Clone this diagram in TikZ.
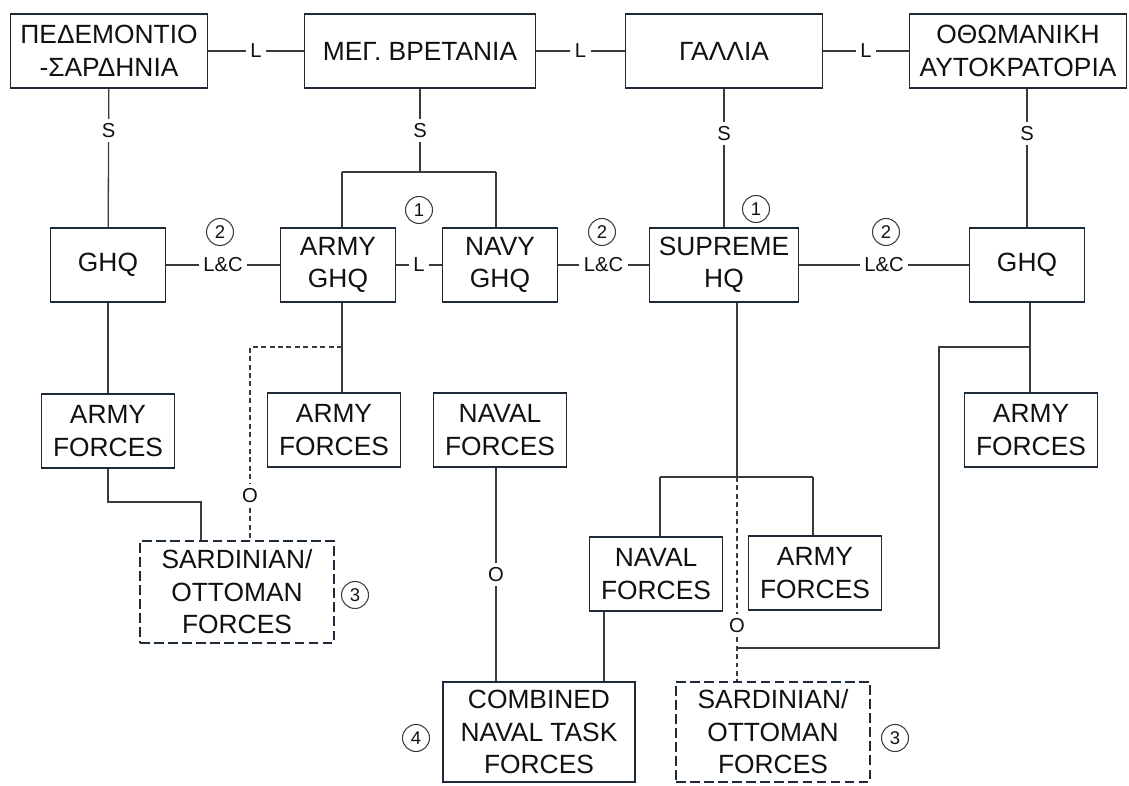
\documentclass[tikz,border=0pt]{standalone}
\usepackage{fontspec}
\setmainfont{Liberation Sans}
\usepackage{xcolor}
\usepackage{tikz}
\usetikzlibrary{calc,positioning}
\definecolor{frame}{HTML}{1E2A38}
\definecolor{wire}{HTML}{3A3A3A}
\definecolor{text}{HTML}{111111}
\tikzset{
  box/.style={draw=frame, line width=1.1pt, fill=white, text=text, align=center,
    font=\fontsize{15}{18.5}\selectfont, inner sep=0pt, minimum height=1.48cm},
  dbox/.style={box, dash pattern=on 5.5pt off 2.5pt, minimum height=2.04cm},
  wire/.style={draw=wire, line width=0.75pt},
  dwire/.style={wire, dash pattern=on 2.8pt off 2pt},
  lbl/.style={fill=white, text=text, font=\fontsize{11.5}{13}\selectfont, inner sep=2.5pt},
  num/.style={circle, draw=wire, line width=0.6pt, fill=white, text=text,
    font=\fontsize{10.5}{12}\selectfont, inner sep=0pt, minimum size=0.54cm},
}

\begin{document}
\begin{tikzpicture}[x=0.02cm, y=-0.02cm]
\useasboundingbox (0,0) rectangle (1129,786);

% states
\node[box, minimum width=3.94cm] (ped) at (109,51) {ΠΕΔΕΜΟΝΤΙΟ\\-ΣΑΡΔΗΝΙΑ};
\node[box, minimum width=4.62cm] (meg) at (420,51) {ΜΕΓ. ΒΡΕΤΑΝΙΑ};
\node[box, minimum width=3.94cm] (gal) at (724,51) {ΓΑΛΛΙΑ};
\node[box, minimum width=4.34cm] (oth) at (1018,51) {ΟΘΩΜΑΝΙΚΗ\\ΑΥΤΟΚΡΑΤΟΡΙΑ};

% headquarters
\node[box, minimum width=2.3cm] (ghqL) at (108,265) {GHQ};
\node[box, minimum width=2.3cm] (armyghq) at (338,265) {ARMY\\GHQ};
\node[box, minimum width=2.3cm] (navyghq) at (500,265) {NAVY\\GHQ};
\node[box, minimum width=2.98cm] (supreme) at (724,265) {SUPREME\\HQ};
\node[box, minimum width=2.3cm] (ghqR) at (1027,265) {GHQ};

% forces
\node[box, minimum width=2.66cm] (armyL) at (108,431) {ARMY\\FORCES};
\node[box, minimum width=2.66cm] (armyM) at (334,430) {ARMY\\FORCES};
\node[box, minimum width=2.66cm] (navalM) at (500,430) {NAVAL\\FORCES};
\node[box, minimum width=2.66cm] (armyR) at (1031,430) {ARMY\\FORCES};
\node[box, minimum width=2.66cm] (navalS) at (656,574) {NAVAL\\FORCES};
\node[box, minimum width=2.66cm] (armyS) at (815,573) {ARMY\\FORCES};
\node[dbox, minimum width=3.88cm] (sardL) at (237,592) {SARDINIAN/\\OTTOMAN\\FORCES};
\node[box, minimum width=3.84cm, minimum height=2.0cm] (combined) at (539,732) {COMBINED\\NAVAL TASK\\FORCES};
\node[dbox, minimum width=3.88cm, minimum height=2.0cm] (sardR) at (773,732) {SARDINIAN/\\OTTOMAN\\FORCES};

% top row links
\draw[wire] (ped) -- node[lbl] {L} (meg);
\draw[wire] (meg) -- node[lbl] {L} (gal);
\draw[wire] (gal) -- node[lbl] {L} (oth);

% support links
\coordinate (fk1) at (420,172);
\coordinate (fkA) at (342,172);
\coordinate (fkN) at (496,172);
\draw[wire] (ped) -- node[lbl, pos=0.3] {S} (ghqL);
\draw[wire] (meg) -- node[lbl] {S} (fk1);
\draw[wire] (fkA) -- (fkN);
\draw[wire] (fkA) -- (fkA |- armyghq.north);
\draw[wire] (fkN) -- (fkN |- navyghq.north);
\draw[wire] (gal) -- node[lbl, pos=0.32] {S} (supreme);
\draw[wire] (oth.south -| ghqR) -- node[lbl, pos=0.32] {S} (ghqR);

% hq row links
\draw[wire] (ghqL) -- node[lbl] {L\&C} (armyghq);
\draw[wire] (armyghq) -- node[lbl] {L} (navyghq);
\draw[wire] (navyghq) -- node[lbl] {L\&C} (supreme);
\draw[wire] (supreme) -- node[lbl] {L\&C} (ghqR);

% left side
\coordinate (dA) at (342,347);
\coordinate (dB) at (250,347);
\coordinate (bendL) at (201,502);
\draw[wire] (ghqL) -- (ghqL |- armyL.north);
\draw[wire] (fkA |- armyghq.south) -- (fkA |- armyM.north);
\draw[dwire] (dA) -- (dB) -- node[lbl, pos=0.77] {O} (dB |- sardL.north);
\draw[wire] (armyL.south) |- (bendL) -- (bendL |- sardL.north);
\draw[wire] (fkN |- navalM.south) -- node[lbl] {O} (fkN |- combined.north);

% supreme hq side
\coordinate (fkS) at (737,477);
\coordinate (fkSL) at (660,477);
\coordinate (fkSR) at (813,477);
\draw[wire] (fkS |- supreme.south) -- (fkS);
\draw[wire] (fkSL) -- (fkSR);
\draw[wire] (fkSL) -- (fkSL |- navalS.north);
\draw[wire] (fkSR) -- (fkSR |- armyS.north);
\draw[dwire] (fkS) -- node[lbl, pos=0.73] {O} (fkS |- sardR.north);
\draw[wire] (navalS.south) ++(-52,0) coordinate (nsOut) -- (nsOut |- combined.north);

% right side
\coordinate (jR) at (1030,347);
\coordinate (cR) at (939,347);
\coordinate (jS) at (737,648);
\draw[wire] (jR |- ghqR.south) -- (jR |- armyR.north);
\draw[wire] (jR) -- (cR) |- (jS);

% notes
\node[num] (n2a) at (220,232) {2};
\node[num] (n1a) at (419,210) {1};
\node[num] (n2b) at (602,232) {2};
\node[num] (n1b) at (756,209) {1};
\node[num] (n2c) at (886,232) {2};
\node[num] (n3a) at (355,595) {3};
\node[num] (n4) at (416,738) {4};
\node[num] (n3b) at (895,738) {3};
\end{tikzpicture}
\end{document}
